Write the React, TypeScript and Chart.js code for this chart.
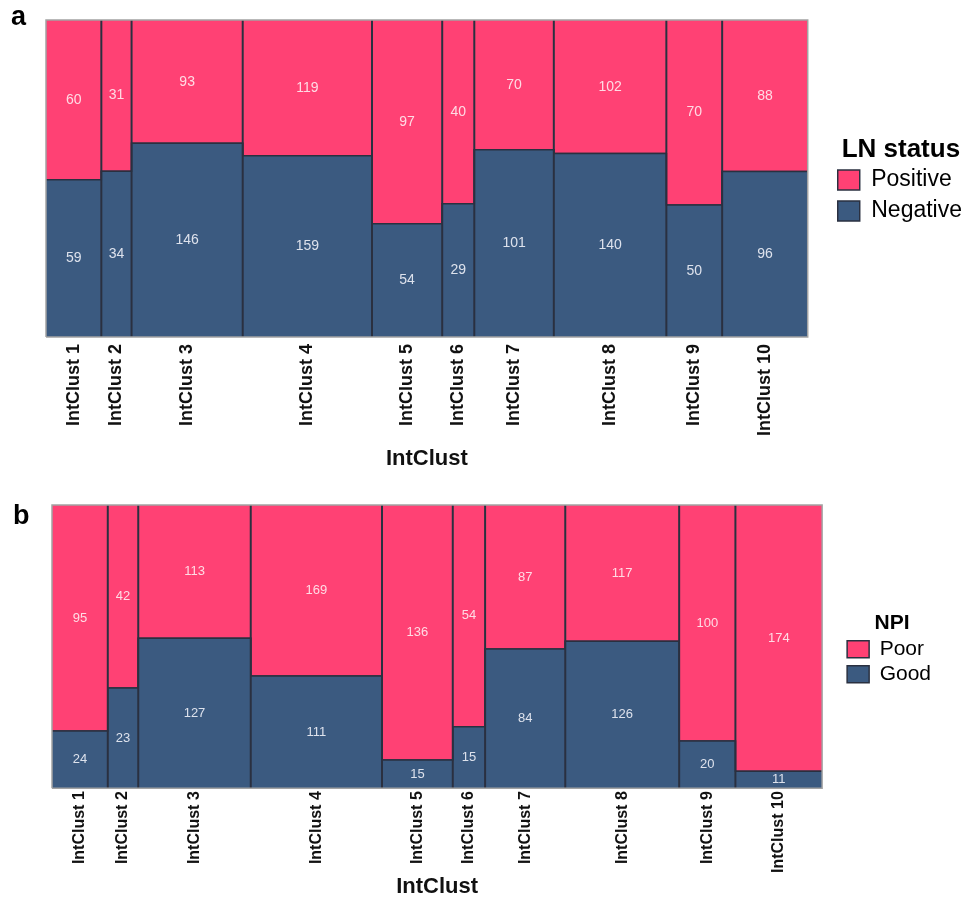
import React, { useEffect, useRef } from 'react';
import { Chart, registerables } from 'chart.js';

Chart.register(...registerables);

const categories = [
  'IntClust 1', 'IntClust 2', 'IntClust 3', 'IntClust 4', 'IntClust 5',
  'IntClust 6', 'IntClust 7', 'IntClust 8', 'IntClust 9', 'IntClust 10',
];
const lnPositive = [60, 31, 93, 119, 97, 40, 70, 102, 70, 88];
const lnNegative = [59, 34, 146, 159, 54, 29, 101, 140, 50, 96];
const npiPoor = [95, 42, 113, 169, 136, 54, 87, 117, 100, 174];
const npiGood = [24, 23, 127, 111, 15, 15, 84, 126, 20, 11];

const PINK = '#ff4174';
const NAVY = '#3b5a80';
const EDGE = '#2a3040';
const FRAME = '#a3a3a3';
const FONT = "'Liberation Sans', Arial, Helvetica, sans-serif";

type PanelCfg = {
  top: number;
  height: number;
  padding: { top: number; left: number; right: number; bottom: number };
  spacer: number;
  tickSize: number;
  tickPad: number;
  titlePadTop: number;
  legendTitleSize: number;
  legendTitleLH: number;
  legendTitlePadTop: number;
  legendLabelSize: number;
  boxW: number;
  boxH: number;
  legendPad: number;
  cellSize: number;
};

type PanelProps = {
  upper: number[];
  lower: number[];
  upperLabel: string;
  lowerLabel: string;
  legendTitle: string;
  cfg: PanelCfg;
};

function MosaicPanel({ upper, lower, upperLabel, lowerLabel, legendTitle, cfg }: PanelProps) {
  const ref = useRef<HTMLCanvasElement>(null);

  useEffect(() => {
    if (!ref.current) return;
    const totals = upper.map((u, i) => u + lower[i]);
    const starts: number[] = [];
    let acc = 0;
    totals.forEach((t) => {
      starts.push(acc);
      acc += t;
    });
    const grand = acc;
    const last = totals.length - 1;
    const mids = starts.map((s, i) => s + totals[i] / 2);

    const boundary = starts.map((s, i) => ({ x: s, y: lower[i] / totals[i] }));
    boundary.push({ x: grand, y: lower[last] / totals[last] });

    const dividers: { x: number; y: number | null }[] = [];
    starts.slice(1).forEach((s) => {
      dividers.push({ x: s, y: 0 }, { x: s, y: 1 }, { x: s, y: null });
    });
    const frame = [
      { x: 0, y: 0 }, { x: 0, y: 1 }, { x: grand, y: 1 }, { x: grand, y: 0 }, { x: 0, y: 0 },
    ];

    const cellLabels = {
      id: 'cellLabels',
      afterDatasetsDraw(chart: any) {
        const { ctx } = chart;
        const xs = chart.scales.x;
        const ys = chart.scales.y;
        ctx.save();
        ctx.font = `${cfg.cellSize}px ${FONT}`;
        ctx.textAlign = 'center';
        ctx.textBaseline = 'middle';
        totals.forEach((t, i) => {
          const cx = xs.getPixelForValue(mids[i]);
          ctx.fillStyle = 'rgba(235,238,245,0.92)';
          ctx.fillText(String(lower[i]), cx, ys.getPixelForValue(lower[i] / 2 / t));
          ctx.fillStyle = 'rgba(255,232,238,0.92)';
          ctx.fillText(String(upper[i]), cx, ys.getPixelForValue((lower[i] + upper[i] / 2) / t));
        });
        ctx.restore();
      },
    };

    const chart = new Chart(ref.current, {
      type: 'line',
      data: {
        datasets: [
          {
            label: upperLabel,
            data: boundary,
            stepped: 'before',
            fill: 'end',
            backgroundColor: PINK,
            borderColor: EDGE,
            borderWidth: 1.5,
            pointRadius: 0,
            order: 2,
          },
          {
            label: lowerLabel,
            data: boundary,
            stepped: 'before',
            fill: 'origin',
            backgroundColor: NAVY,
            borderColor: EDGE,
            borderWidth: 1.5,
            pointRadius: 0,
            order: 1,
          },
          {
            label: 'dividers',
            data: dividers as any,
            fill: false,
            borderColor: EDGE,
            borderWidth: 2,
            pointRadius: 0,
            spanGaps: false,
            order: -1,
          },
          {
            label: 'frame',
            data: frame,
            fill: false,
            borderColor: FRAME,
            borderWidth: 1.5,
            pointRadius: 0,
            clip: false as any,
            order: -2,
          },
        ],
      },
      options: {
        responsive: false,
        animation: false,
        events: [],
        layout: { padding: cfg.padding },
        font: { family: FONT },
        scales: {
          x: {
            type: 'linear',
            min: 0,
            max: grand,
            grid: { display: false, drawTicks: false },
            border: { display: false },
            afterBuildTicks: (scale: any) => {
              scale.ticks = mids.map((v) => ({ value: v }));
            },
            ticks: {
              autoSkip: false,
              minRotation: 90,
              maxRotation: 90,
              padding: cfg.tickPad,
              color: '#111',
              font: { family: FONT, size: cfg.tickSize, weight: 'bold' },
              callback: (_v: any, i: number) => categories[i],
            },
            title: {
              display: true,
              text: 'IntClust',
              color: '#111',
              font: { family: FONT, size: 22, weight: 'bold', lineHeight: 1 },
              padding: { top: cfg.titlePadTop, bottom: 0 },
            },
          },
          y: {
            type: 'linear',
            min: 0,
            max: 1,
            display: false,
          },
          gap: {
            type: 'linear',
            axis: 'y',
            position: 'right',
            display: true,
            grid: { display: false, drawTicks: false },
            border: { display: false },
            ticks: { display: false },
            afterFit: (scale: any) => {
              scale.width = cfg.spacer;
            },
          } as any,
        },
        plugins: {
          tooltip: { enabled: false },
          legend: {
            display: true,
            position: 'right',
            fullSize: false,
            align: 'center',
            title: {
              display: true,
              text: legendTitle,
              color: '#000',
              position: 'center',
              font: { family: FONT, size: cfg.legendTitleSize, weight: 'bold', lineHeight: cfg.legendTitleLH },
              padding: { top: cfg.legendTitlePadTop, bottom: 0 },
            },
            labels: {
              boxWidth: cfg.boxW,
              boxHeight: cfg.boxH,
              padding: cfg.legendPad,
              color: '#000',
              font: { family: FONT, size: cfg.legendLabelSize },
              filter: (item: any) => item.datasetIndex < 2,
              sort: (a: any, b: any) => a.datasetIndex - b.datasetIndex,
            },
          },
        },
      },
      plugins: [cellLabels],
    });
    return () => chart.destroy();
  }, []);

  return (
    <div style={{ position: 'absolute', left: 0, top: cfg.top, width: 965, height: cfg.height }}>
      <canvas ref={ref} width={965} height={cfg.height} style={{ width: 965, height: cfg.height }} />
    </div>
  );
}

const panelA: PanelCfg = {
  top: 0,
  height: 470,
  padding: { top: 20, left: 46, right: -7, bottom: 0 },
  spacer: 22,
  tickSize: 18,
  tickPad: 7,
  titlePadTop: 5,
  legendTitleSize: 26,
  legendTitleLH: 0.92,
  legendTitlePadTop: 10,
  legendLabelSize: 23,
  boxW: 22,
  boxH: 20,
  legendPad: 8,
  cellSize: 14,
};

const panelB: PanelCfg = {
  top: 470,
  height: 436,
  padding: { top: 35, left: 52, right: 24, bottom: 8 },
  spacer: 21,
  tickSize: 16,
  tickPad: 3,
  titlePadTop: 0,
  legendTitleSize: 21,
  legendTitleLH: 1.05,
  legendTitlePadTop: 8,
  legendLabelSize: 21,
  boxW: 22,
  boxH: 17,
  legendPad: 4,
  cellSize: 13,
};

const letterStyle: React.CSSProperties = {
  position: 'absolute',
  fontFamily: FONT,
  fontWeight: 'bold',
  fontSize: 27,
  lineHeight: 1,
  color: '#000',
};

export default function App() {
  return (
    <div style={{ position: 'absolute', left: 0, top: 0, width: 965, height: 906, background: '#fff' }}>
      <MosaicPanel
        upper={lnPositive}
        lower={lnNegative}
        upperLabel="Positive"
        lowerLabel="Negative"
        legendTitle="LN status"
        cfg={panelA}
      />
      <MosaicPanel
        upper={npiPoor}
        lower={npiGood}
        upperLabel="Poor"
        lowerLabel="Good"
        legendTitle="NPI"
        cfg={panelB}
      />
      <div style={{ ...letterStyle, left: 11, top: 3 }}>a</div>
      <div style={{ ...letterStyle, left: 13, top: 502 }}>b</div>
    </div>
  );
}
